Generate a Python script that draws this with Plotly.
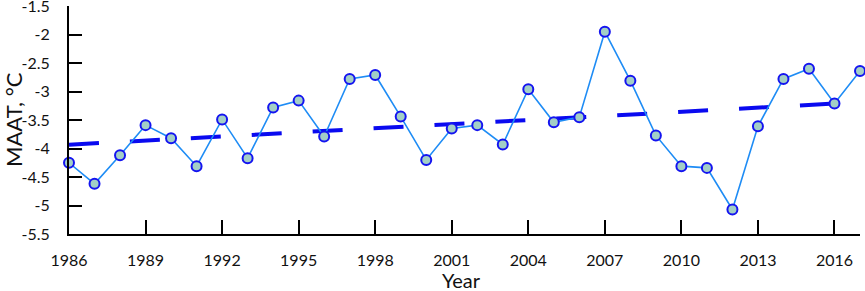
import numpy as np
import plotly.graph_objects as go

years = list(range(1986, 2018))
maat = [-4.25, -4.62, -4.12, -3.59, -3.82, -4.31, -3.49, -4.17, -3.28, -3.16,
        -3.79, -2.78, -2.71, -3.44, -4.20, -3.65, -3.59, -3.93, -2.96, -3.54,
        -3.45, -1.95, -2.81, -3.77, -4.31, -4.34, -5.07, -3.61, -2.78, -2.60,
        -3.21, -2.64]
x_ticks = list(range(1986, 2017, 3))
y_ticks = [-5.5, -5, -4.5, -4, -3.5, -3, -2.5, -2, -1.5]
x_title = "Year"
y_title = "MAAT, °C"

slope, intercept = np.polyfit(years, maat, 1)
trend_x = [years[0], years[-1]]
trend_y = [slope * v + intercept for v in trend_x]

fig = go.Figure()
fig.add_trace(go.Scatter(
    x=trend_x, y=trend_y, mode="lines",
    line=dict(color="#0a0af0", width=4, dash="30px,31px"),
    hoverinfo="skip", cliponaxis=False))
fig.add_trace(go.Scatter(
    x=years, y=maat, mode="lines+markers",
    line=dict(color="#1e8cf5", width=1.6),
    marker=dict(symbol="circle", size=10, color="#a3cfc6",
                line=dict(color="#1414f0", width=2)),
    cliponaxis=False))

font = "Lato, 'Open Sans', sans-serif"
fig.update_layout(
    width=865, height=291,
    margin=dict(l=69, r=5, t=6, b=57),
    paper_bgcolor="white", plot_bgcolor="white",
    showlegend=False,
    font=dict(family=font, color="#111111", size=16),
    xaxis=dict(range=[1986, 2017], tickvals=x_ticks, ticktext=[str(t) for t in x_ticks],
               showgrid=False, zeroline=False, showline=True, linecolor="black", linewidth=2,
               ticks="inside", ticklen=14, tickwidth=2, tickcolor="black",
               ticklabelstandoff=11, automargin=False, ticklabeloverflow="allow",
               tickfont=dict(size=16)),
    yaxis=dict(range=[-5.5, -1.5], tickvals=y_ticks, ticktext=[f"{t:g}" for t in y_ticks],
               showgrid=False, zeroline=False, showline=True, linecolor="black", linewidth=2,
               ticks="inside", ticklen=13, tickwidth=2, tickcolor="black",
               ticklabelstandoff=14, automargin=False, ticklabeloverflow="allow",
               tickfont=dict(size=16)),
    annotations=[
        dict(text=x_title, xref="paper", yref="paper", x=0.5, y=0, xanchor="center",
             yanchor="middle", xshift=-3, yshift=-46, showarrow=False,
             font=dict(size=20, family=font, color="#111111")),
        dict(text=y_title, xref="paper", yref="paper", x=0, y=0.5, xanchor="center",
             yanchor="middle", xshift=-56, yshift=0, textangle=-90, showarrow=False,
             font=dict(size=22, family=font, color="#111111")),
    ],
)
fig.write_html("out.html", config={"displayModeBar": False},
               post_script="document.body.style.margin='0';")
